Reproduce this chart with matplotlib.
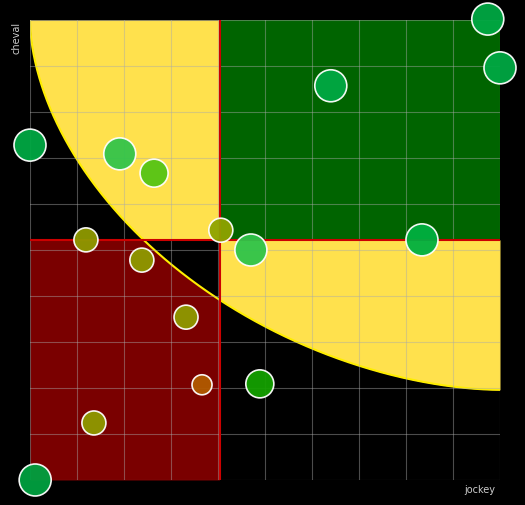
import matplotlib
matplotlib.use("Agg")
import matplotlib.pyplot as plt
import numpy as np

# quadrant thresholds and curve parameters (data units 0..10)
x_split, y_split = 4.04, 5.22
curve_b, curve_p = 8.04, 1.8

px = [9.74, 10.0, 6.40, 0.0, 1.91, 2.64, 1.19, 4.06, 4.70, 8.34, 2.38, 3.32, 3.66, 4.89, 1.36, 0.11]
py = [10.02, 8.96, 8.57, 7.28, 7.09, 6.67, 5.22, 5.43, 5.00, 5.22, 4.78, 3.54, 2.07, 2.09, 1.24, 0.0]
sizes = [16, 16, 16, 16, 16, 14, 12, 12, 16, 16, 12, 12, 10, 14, 12, 16]
colors = ['#00a843', '#00a843', '#00a843', '#00a843', '#33c44a', '#55c414', '#8f9a00', '#8fa300',
          '#2fc44a', '#00b040', '#8f9a00', '#8f9a00', '#b05a00', '#14a000', '#8f9a00', '#00a040']

fig = plt.figure(figsize=(5.25, 5.05), dpi=100, facecolor='black')
ax = fig.add_axes([30/525, 25/505, 470/525, 460/505], facecolor='black')
ax.set_xlim(0, 10); ax.set_ylim(0, 10)

x = np.linspace(0, 10, 800)
ye = 10 - curve_b * (1 - ((10 - x) / 10) ** curve_p) ** (1 / curve_p)
left = x <= x_split
right = x >= x_split
ax.fill_between(x[left], np.maximum(ye[left], y_split), 10, color='#ffe14d', lw=0)
ax.fill_between(x[left], 0, np.minimum(ye[left], y_split), color='#7a0000', lw=0)
ax.fill_between(x[right], ye[right], y_split, where=ye[right] < y_split, color='#ffe14d', lw=0)
ax.fill_between([x_split, 10], y_split, 10, color='#006400', lw=0)
ax.plot(x, ye, color='#ffee00', lw=1.5)

for v in np.arange(0, 11):
    ax.axvline(v, color='#aaaaaa', lw=0.8, alpha=0.45)
    ax.axhline(v, color='#aaaaaa', lw=0.8, alpha=0.45)
ax.axvline(x_split, color='#cc0000', lw=1.5)
ax.axhline(y_split, color='#cc0000', lw=1.5)

# size = radius in px -> points^2 at 100 dpi
ax.scatter(px, py, s=(np.array(sizes) * 2 * 0.72) ** 2, c=colors, edgecolors='white',
           linewidths=1.2, clip_on=False, zorder=5, alpha=0.95)

for s in ax.spines.values():
    s.set_visible(False)
ax.set_xticks([]); ax.set_yticks([])
fig.text(16/525, 1 - 38/505, 'cheval', color='#cccccc', fontsize=7, rotation=90, ha='center', va='center')
fig.text(480/525, 1 - 490/505, 'jockey', color='#cccccc', fontsize=7, ha='center', va='center')
fig.savefig('out.png', dpi=100, facecolor='black')
